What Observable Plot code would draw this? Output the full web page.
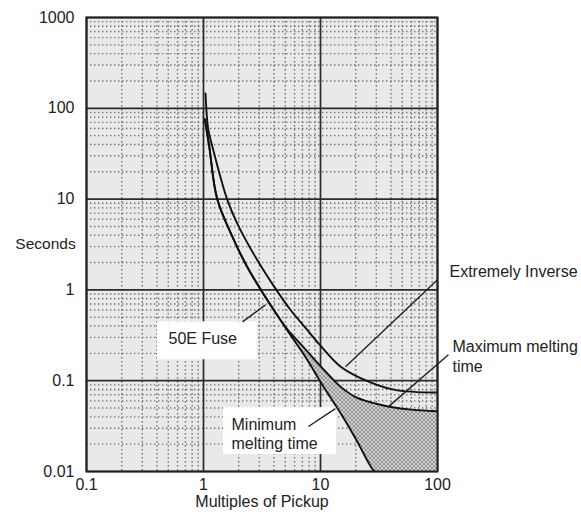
<!DOCTYPE html>
<html><head><meta charset="utf-8">
<script src="https://cdn.jsdelivr.net/npm/d3@7"></script>
<script src="https://cdn.jsdelivr.net/npm/@observablehq/plot@0.6"></script>
<style>
html,body{margin:0;padding:0;background:#fff;}
#chart{width:581px;height:521px;}
</style></head><body><div id="chart"></div>
<script>
// ---- tick labels ----
const xTicks = [0.1, 1, 10, 100];
const yTicks = [0.01, 0.1, 1, 10, 100, 1000];
const minorMult = [2, 3, 4, 5, 6, 7, 8, 9];
const xLabel = "Multiples of Pickup";
const yLabel = "Seconds";

// ---- Extremely Inverse relay curve ----
const eiX = [1.04, 1.097, 1.19, 1.59, 1.94, 2.78, 3.99, 5.55, 7.7, 10, 14.8, 22, 42.3, 100];
const eiT = [146, 59, 38, 10, 5.4, 2.3, 1.1, 0.6, 0.363, 0.243, 0.1436, 0.107, 0.0797, 0.074];

// ---- 50E fuse melting curves ----
const fuseX   = [1.026, 1.119, 1.31, 1.82, 2.36, 2.97, 3.99, 5.19, 6.75, 7.7, 10, 15, 20, 28, 29.5, 40, 60, 100];
const fuseMax = [75.7, 38.2, 10, 3.54, 1.80, 1.09, 0.60, 0.37, 0.255, 0.21, 0.145, 0.085, 0.066, 0.057, 0.056, 0.0514, 0.048, 0.046];
const fuseMin = [75.7, 38.2, 10, 3.54, 1.80, 1.09, 0.60, 0.36, 0.22, 0.17, 0.097, 0.043, 0.023, 0.0105, 0.01, null, null, null];

// ---- annotation texts ----
const labelTexts = ["50E Fuse", "Minimum\nmelting time", "Extremely Inverse", "Maximum melting\ntime"];

// derived tables
const eiRows = eiX.map((x, i) => ({x, t: eiT[i]}));
const fuseRows = fuseX.map((x, i) => ({x, hi: fuseMax[i], lo: fuseMin[i]}));
const floorT = yTicks[0];
const bandRows = fuseRows.map(d => ({x: d.x, hi: d.hi, lo: d.lo == null ? floorT : d.lo}));
const minorX = xTicks.slice(0, -1).flatMap(d => minorMult.map(m => d * m));
const minorY = yTicks.slice(0, -1).flatMap(d => minorMult.map(m => d * m));

// annotation placement (data space)
const boxes = [
  {x1: 0.405, x2: 2.89, y1: 0.445, y2: 0.170},
  {x1: 1.483, x2: 13.7, y1: 0.0505, y2: 0.01538}
];
const leaders = [
  {x1: 2.154, y1: 0.445, x2: 3.39, y2: 0.684},
  {x1: 16.36, y1: 0.1426, x2: 100, y2: 1.29},
  {x1: 38.1, y1: 0.0518, x2: 124, y2: 0.193},
  {x1: 7.89, y1: 0.0313, x2: 13.4, y2: 0.0492}
];
const insideLabels = [
  {text: labelTexts[0], x: 0.502, y: 0.297},
  {text: labelTexts[1], x: 1.735, y: 0.0262}
];
const outsideLabels = [
  {text: labelTexts[2], x: 100, y: 1.589},
  {text: labelTexts[3], x: 100, y: 0.1906}
];

const font = "'Liberation Sans', Arial, Helvetica, sans-serif";
const ink = "#222";
const curve = "catmull-rom";

const svg = Plot.plot({
  width: 581,
  height: 521,
  marginLeft: 86,
  marginRight: 144,
  marginTop: 17,
  marginBottom: 50,
  style: {fontFamily: font, fontSize: "16px", color: ink, background: "#fff", overflow: "visible"},
  x: {type: "log", domain: [0.1, 100], ticks: xTicks, tickFormat: d => String(d), tickSize: 0, tickPadding: 7, label: null},
  y: {type: "log", domain: [0.01, 1000], ticks: yTicks, tickFormat: d => String(d), tickSize: 0, tickPadding: 12, label: null},
  marks: [
    Plot.frame({fill: "#e9e9e9"}),
    Plot.ruleX(minorX, {stroke: "#727272", strokeWidth: 1.4, strokeDasharray: "1.4,2.6"}),
    Plot.ruleY(minorY, {stroke: "#727272", strokeWidth: 1.4, strokeDasharray: "1.4,2.6"}),
    Plot.ruleX(xTicks, {stroke: "#2a2a2a", strokeWidth: 1.7}),
    Plot.ruleY(yTicks, {stroke: "#2a2a2a", strokeWidth: 1.7}),
    Plot.areaY(bandRows, {x: "x", y1: "lo", y2: "hi", fill: "url(#fuseHatch)", curve, clip: true}),
    Plot.rect(boxes, {x1: "x1", x2: "x2", y1: "y1", y2: "y2", fill: "#fff"}),
    Plot.line(eiRows, {x: "x", y: "t", stroke: "#111", strokeWidth: 1.9, curve, clip: true}),
    Plot.line(fuseRows, {x: "x", y: "hi", stroke: "#111", strokeWidth: 1.9, curve, clip: true}),
    Plot.line(fuseRows.filter(d => d.lo != null), {x: "x", y: "lo", stroke: "#111", strokeWidth: 1.9, curve, clip: true}),
    Plot.link(leaders, {x1: "x1", y1: "y1", x2: "x2", y2: "y2", stroke: ink, strokeWidth: 1.4}),
    Plot.text(insideLabels, {x: "x", y: "y", text: "text", textAnchor: "start", lineAnchor: "middle", lineHeight: 1.15, fill: ink, fontSize: 16}),
    Plot.text(outsideLabels.slice(0, 1), {x: "x", y: "y", text: "text", dx: 12, textAnchor: "start", lineAnchor: "middle", fill: ink, fontSize: 16}),
    Plot.text(outsideLabels.slice(1), {x: "x", y: "y", text: "text", dx: 15, textAnchor: "start", lineAnchor: "middle", lineHeight: 1.3, fill: ink, fontSize: 16}),
    Plot.frame({stroke: "#1e1e1e", strokeWidth: 2}),
    Plot.text([xLabel], {frameAnchor: "bottom", dy: 30, lineAnchor: "middle", fill: ink, fontSize: 16}),
    Plot.text([yLabel], {frameAnchor: "left", dx: -41, textAnchor: "middle", lineAnchor: "middle", fill: ink, fontSize: 15.5})
  ]
});

const ns = "http://www.w3.org/2000/svg";
const defs = document.createElementNS(ns, "defs");
defs.innerHTML = '<pattern id="fuseHatch" width="4" height="4" patternUnits="userSpaceOnUse">' +
  '<rect width="4" height="4" fill="#d2d2d2"/>' +
  '<path d="M0,0L4,4M4,0L0,4" stroke="#858585" stroke-width="0.8"/></pattern>';
svg.insertBefore(defs, svg.firstChild);
document.getElementById("chart").appendChild(svg);
</script>
</body></html>
